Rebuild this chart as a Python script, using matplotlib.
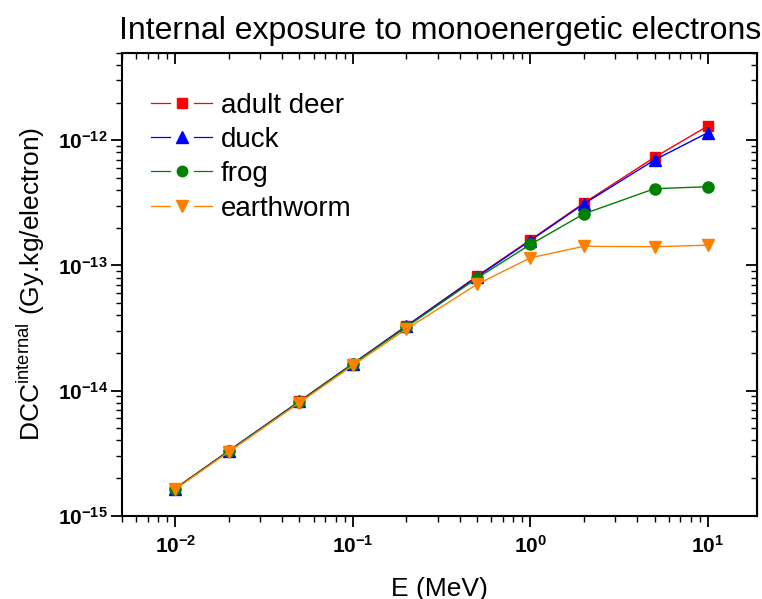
import matplotlib
matplotlib.use("Agg")
import matplotlib.pyplot as plt
from matplotlib.lines import Line2D
from matplotlib.legend_handler import HandlerBase
from matplotlib.ticker import FuncFormatter, LogLocator, NullFormatter, FixedLocator
import numpy as np

plt.rcParams['font.family'] = ['Liberation Sans', 'DejaVu Sans']
plt.rcParams['mathtext.fontset'] = 'custom'
plt.rcParams['mathtext.rm'] = 'Liberation Sans'
plt.rcParams['mathtext.bf'] = 'Liberation Sans:bold'

# electron energy (MeV)
energy = [0.01, 0.02, 0.05, 0.1, 0.2, 0.5, 1, 2, 5, 10]

# DCC internal (Gy.kg/electron)
deer = [1.65e-15, 3.3e-15, 8.2e-15, 1.64e-14, 3.28e-14, 8.2e-14, 1.6e-13, 3.15e-13, 7.3e-13, 1.3e-12]
duck = [1.65e-15, 3.3e-15, 8.2e-15, 1.64e-14, 3.27e-14, 8.1e-14, 1.58e-13, 3.1e-13, 6.95e-13, 1.15e-12]
frog = [1.65e-15, 3.28e-15, 8.15e-15, 1.63e-14, 3.22e-14, 7.9e-14, 1.47e-13, 2.58e-13, 4.1e-13, 4.25e-13]
earthworm = [1.63e-15, 3.24e-15, 8.0e-15, 1.59e-14, 3.1e-14, 7.05e-14, 1.15e-13, 1.42e-13, 1.41e-13, 1.45e-13]

# labelled decades
x_decades = [1e-2, 1e-1, 1e0, 1e1]
y_decades = [1e-15, 1e-14, 1e-13, 1e-12]

series = [
    ("adult deer", deer, "#ff0000", "s", 7.5),
    ("duck", duck, "#0000ff", "^", 9),
    ("frog", frog, "#008000", "o", 8),
    ("earthworm", earthworm, "#ff8000", "v", 9),
]


def pow10(v, pos):
    return r'$\mathbf{10^{%d}}$' % int(round(np.log10(v)))


# legend entry like Origin: line - gap - marker - gap - line
class GapHandler(HandlerBase):
    def create_artists(self, legend, orig, xdescent, ydescent, width, height,
                       fontsize, trans):
        y = height / 2 - ydescent
        x0 = -xdescent
        xm = x0 + width / 2
        gap = 0.2 * width
        col = orig.get_color()
        l1 = Line2D([x0, xm - gap], [y, y], color=col, lw=0.9)
        l2 = Line2D([xm + gap, x0 + width], [y, y], color=col, lw=0.9)
        mk = Line2D([xm], [y], ls='none', marker=orig.get_marker(),
                    markersize=orig.get_markersize() - 0.5, color=col,
                    markeredgecolor=col)
        for a in (l1, l2, mk):
            a.set_transform(trans)
        return [l1, l2, mk]


fig = plt.figure(figsize=(7.62, 5.99), dpi=100)
ax = fig.add_axes([0.160, 0.139, 0.834, 0.773])

handles = []
for name, vals, col, mk, ms in series:
    line, = ax.plot(energy, vals, color=col, lw=1.0, marker=mk, markersize=ms,
                    markeredgecolor=col, label=name)
    handles.append(line)

ax.set_xscale('log')
ax.set_yscale('log')
ax.set_xlim(0.005, 19)
ax.set_ylim(1e-15, 5e-12)

ax.xaxis.set_major_locator(FixedLocator(x_decades))
ax.yaxis.set_major_locator(FixedLocator(y_decades))
ax.xaxis.set_major_formatter(FuncFormatter(pow10))
ax.yaxis.set_major_formatter(FuncFormatter(pow10))
ax.xaxis.set_minor_locator(LogLocator(base=10, subs=np.arange(2, 10)))
ax.yaxis.set_minor_locator(LogLocator(base=10, subs=np.arange(2, 10)))
ax.xaxis.set_minor_formatter(NullFormatter())
ax.yaxis.set_minor_formatter(NullFormatter())
ax.tick_params(which='major', direction='out', length=8, width=1.3, labelsize=15)
ax.tick_params(which='minor', direction='out', length=4, width=1.0)
ax.tick_params(axis='x', which='major', pad=6)
ax.tick_params(axis='y', which='major', pad=2)

for sp in ax.spines.values():
    sp.set_linewidth(1.5)

# inward ticks on top and right
top = ax.secondary_xaxis('top')
top.tick_params(which='major', direction='in', length=8, width=1.3, labeltop=False)
top.tick_params(which='minor', direction='in', length=4, width=1.0)
top.xaxis.set_major_locator(FixedLocator(x_decades))
top.xaxis.set_minor_locator(LogLocator(base=10, subs=np.arange(2, 10)))
top.xaxis.set_major_formatter(NullFormatter())
top.xaxis.set_minor_formatter(NullFormatter())
right = ax.secondary_yaxis('right')
right.tick_params(which='major', direction='in', length=8, width=1.3, labelright=False)
right.tick_params(which='minor', direction='in', length=4, width=1.0)
right.yaxis.set_major_locator(FixedLocator(y_decades))
right.yaxis.set_minor_locator(LogLocator(base=10, subs=np.arange(2, 10)))
right.yaxis.set_major_formatter(NullFormatter())
right.yaxis.set_minor_formatter(NullFormatter())

ax.set_xlabel('E (MeV)', fontsize=19, labelpad=14)
ax.set_ylabel(r'DCC$^{\mathregular{internal}}$ (Gy.kg/electron)', fontsize=19, labelpad=8)
ax.set_title('Internal exposure to monoenergetic electrons', fontsize=23, pad=10)

ax.legend(handles=handles, handler_map={Line2D: GapHandler()},
          loc='upper left', bbox_to_anchor=(0.02, 0.95),
          frameon=False, fontsize=20, handlelength=2.2, handletextpad=0.3,
          labelspacing=0.3, borderaxespad=0.2)

fig.savefig('out.png', dpi=100)
